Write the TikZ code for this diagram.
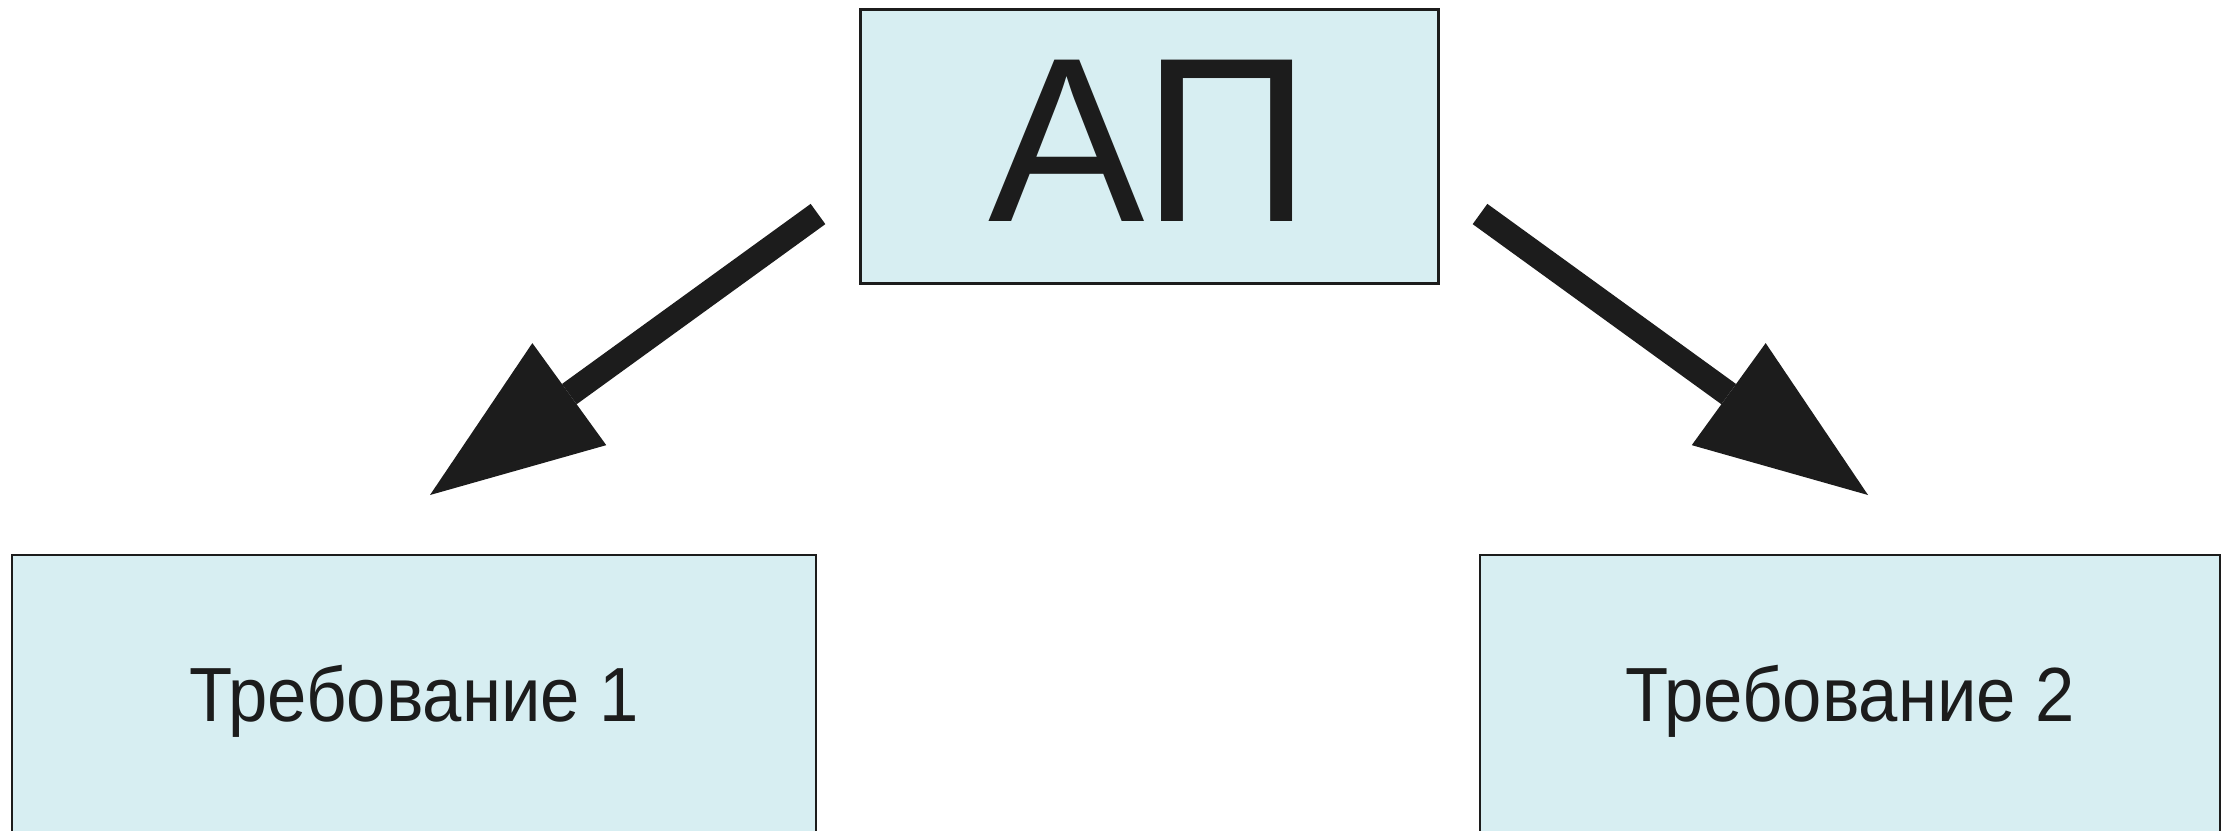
\documentclass[tikz,border=0pt]{standalone}
\usepackage{fontspec}
\setmainfont{Liberation Sans}
\newfontfamily\reqfont{Liberation Sans}[FakeStretch=0.92]
\usepackage{xcolor}
\usepackage{tikz}
\usetikzlibrary{arrows.meta}
\definecolor{boxfill}{RGB}{215,238,242}
\definecolor{ink}{RGB}{28,28,28}
\tikzset{edge/.style = {-{Triangle[length=17.2mm,width=12.6mm,line width=0pt]}, line width=2.5mm, color=ink}}

\begin{document}
\begin{tikzpicture}[x=0.1mm,y=-0.1mm,main node/.style={rectangle,draw=ink,fill=boxfill,line width=0.25mm,inner sep=0pt,text=ink}]
                \useasboundingbox (0,0) rectangle (2236,830);
                \clip (0,0) rectangle (2236,830);

                \node[main node, minimum width=57.8mm, minimum height=27.4mm, text height=16.8mm, text depth=1.9mm, font=\fontsize{66.75pt}{70pt}\selectfont] (1) at (1149.5,146.7) {АП};
                \node[main node, minimum width=80.4mm, minimum height=27.8mm, text height=5.5mm, text depth=0pt, font=\reqfont\fontsize{21.85pt}{24pt}\selectfont] (2) at (414,694.2) {Требование 1};
                \node[main node, minimum width=74mm, minimum height=27.8mm, text height=5.5mm, text depth=0pt, font=\reqfont\fontsize{21.85pt}{24pt}\selectfont] (3) at (1850,694.2) {Требование 2};

                % free ends of the two arrows
                \coordinate (1l) at (818,214);
                \coordinate (2t) at (430,495);
                \coordinate (1r) at (1480,214);
                \coordinate (3t) at (1868,495);

                \path
                    (1l) edge[edge] (2t)
                    (1r) edge[edge] (3t)
                    ;
            \end{tikzpicture}
\end{document}
